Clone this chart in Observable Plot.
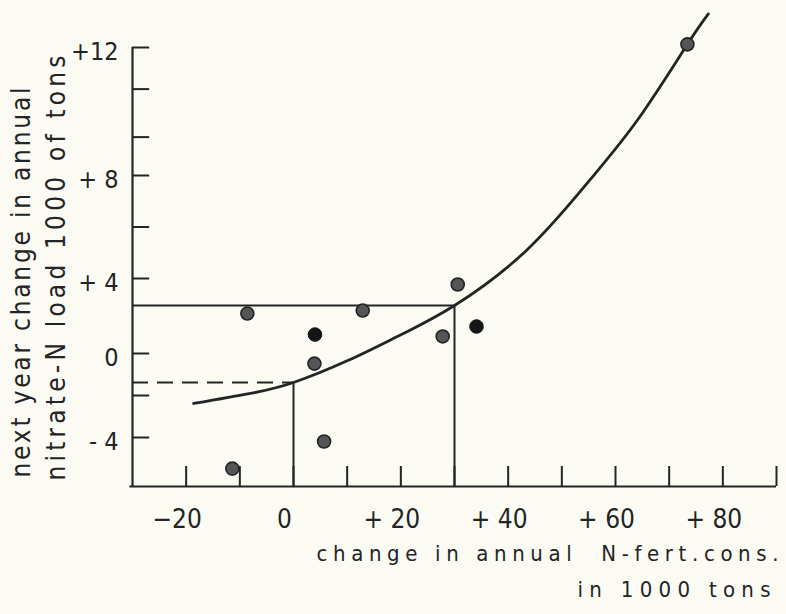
<!DOCTYPE html>
<html><head><meta charset="utf-8">
<script src="https://cdn.jsdelivr.net/npm/d3@7"></script>
<script src="https://cdn.jsdelivr.net/npm/@observablehq/plot@0.6"></script>
<style>
html,body{margin:0;padding:0;background:#fbfbf4;}
#chart svg{display:block;}
#chart svg text{font-stretch:condensed;}
</style></head><body><div id="chart"></div>
<script>
// ---- data ----
const pointX = [-11.4, -8.6, 3.9, 4.0, 5.7, 12.9, 27.8, 30.6, 34.1, 73.4];
const pointY = [-5.48, 2.13, -0.48, 1.01, -4.19, 2.29, 0.91, 3.68, 1.44, 12.1];
const pointSolid = [false, false, false, true, false, false, false, false, true, false];

const curveX = [-18.6, -8, 0, 10, 20, 30, 43.4, 55, 64.3, 73.4, 77.3];
const curveY = [-2.38, -1.9, -1.38, -0.35, 1.0, 2.56, 5.09, 7.77, 9.78, 12.1, 13.06];

const refX = [0, 30];
const refY = [-1.38, 2.56];

const xTickValues = [-20, -10, 0, 10, 20, 30, 40, 50, 60, 70, 80, 90];
const xLabelValues = [-20, 0, 20, 40, 60, 80];
const xLabelText = ["\u221220", "0", "+ 20", "+ 40", "+ 60", "+ 80"];

const yTickValues = [-4, -2, 0, 4, 6, 8, 9.2, 10.7, 12];
const yLabelValues = [-4, 0, 4, 8, 12];
const yLabelText = ["- 4", "0", "+ 4", "+ 8", "+12"];

const xTitle = ["change in annual  N-fert.cons.", "in 1000 tons"];
const yTitle = ["next year change in annual", "nitrate-N load 1000 of tons"];

// ---- scales: the hand-drawn y axis has uneven spacing between its labels,
// so values go through a piecewise transform before the linear y scale ----
const X0 = -30, X1 = 90, Y0 = -6.33, YTOP = 12;
const yBreaks = [Y0, -4, 0, 4, 8, 12, 13.2];
const yDrawn = [0, 49, 133, 208, 311, 439, 477];
const yWarp = d3.scaleLinear().domain(yBreaks).range(yDrawn);
const ink = "#242424";

const curveData = curveX.map((x, i) => ({x, y: curveY[i]}));
const idx = pointX.map((_, i) => i);

const chart = Plot.plot({
  width: 786, height: 614,
  marginLeft: 132, marginRight: 10, marginTop: 9, marginBottom: 128,
  style: {background: "transparent", fontFamily: "'DejaVu Sans', sans-serif", color: ink},
  x: {domain: [X0, X1], axis: null},
  y: {transform: yWarp, domain: [yDrawn[0], yDrawn[yDrawn.length - 1]], axis: null},
  marks: [
    // axes
    Plot.ruleY([Y0], {x1: X0 - 0.5, x2: X1, stroke: ink, strokeWidth: 2.2}),
    Plot.ruleX([X0], {y1: Y0, y2: YTOP, stroke: ink, strokeWidth: 2.2}),
    // inward ticks
    Plot.ruleX(xTickValues, {x: d => d, y1: Y0, y2: Y0 + 0.95, stroke: ink, strokeWidth: 2}),
    Plot.ruleY(yTickValues, {y: d => d, x1: X0, x2: X0 + 3.2, stroke: ink, strokeWidth: 2}),
    // tick labels
    Plot.text(xLabelValues, {x: d => d, y: Y0, dy: 33, dx: -9, text: (d, i) => xLabelText[i], fontSize: 26, fill: ink}),
    Plot.text(yLabelValues, {x: X0, y: d => d, dx: -14, dy: 4, textAnchor: "end", text: (d, i) => yLabelText[i], fontSize: 25, fill: ink}),
    // reference lines
    Plot.ruleY([refY[1]], {x1: X0, x2: refX[1], stroke: ink, strokeWidth: 2}),
    Plot.ruleX([refX[1]], {y1: Y0, y2: refY[1], stroke: ink, strokeWidth: 2}),
    Plot.ruleX([refX[0]], {y1: Y0, y2: refY[0], stroke: ink, strokeWidth: 2}),
    Plot.ruleY([refY[0]], {x1: X0, x2: refX[0], stroke: ink, strokeWidth: 2, strokeDasharray: "16,9"}),
    // fitted curve
    Plot.line(curveData, {x: "x", y: "y", curve: "natural", stroke: ink, strokeWidth: 2.8}),
    // points
    Plot.dot(idx.filter(i => !pointSolid[i]), {x: i => pointX[i], y: i => pointY[i], r: 6.5, fill: "#555", stroke: "#222", strokeWidth: 1.6}),
    Plot.dot(idx.filter(i => pointSolid[i]), {x: i => pointX[i], y: i => pointY[i], r: 6.8, fill: "#151515", stroke: "#151515", strokeWidth: 1}),
    // axis titles
    Plot.text([xTitle[0]], {text: d => d, frameAnchor: "bottom-right", dx: 2, dy: 74, textAnchor: "end", fontSize: 22, fill: ink}),
    Plot.text([xTitle[1]], {text: d => d, frameAnchor: "bottom-right", dx: -6, dy: 110, textAnchor: "end", fontSize: 22, fill: ink}),
    Plot.text([yTitle[0]], {text: d => d, frameAnchor: "bottom-left", dx: -103, dy: -9, rotate: -90, textAnchor: "start", fontSize: 26, fill: ink}),
    Plot.text([yTitle[1]], {text: d => d, frameAnchor: "bottom-left", dx: -68, dy: -6, rotate: -90, textAnchor: "start", fontSize: 26, fill: ink})
  ]
});

// widely spaced hand lettering: stretch titles to their drawn lengths
const lengths = new Map([[yTitle[0], 390], [yTitle[1], 425], [xTitle[0], 462], [xTitle[1], 193]]);
d3.select(chart).selectAll("text").each(function () {
  const L = lengths.get(this.textContent);
  if (L) { this.setAttribute("textLength", L); this.setAttribute("lengthAdjust", "spacing"); }
});

document.getElementById("chart").appendChild(chart);
</script>
</body></html>
